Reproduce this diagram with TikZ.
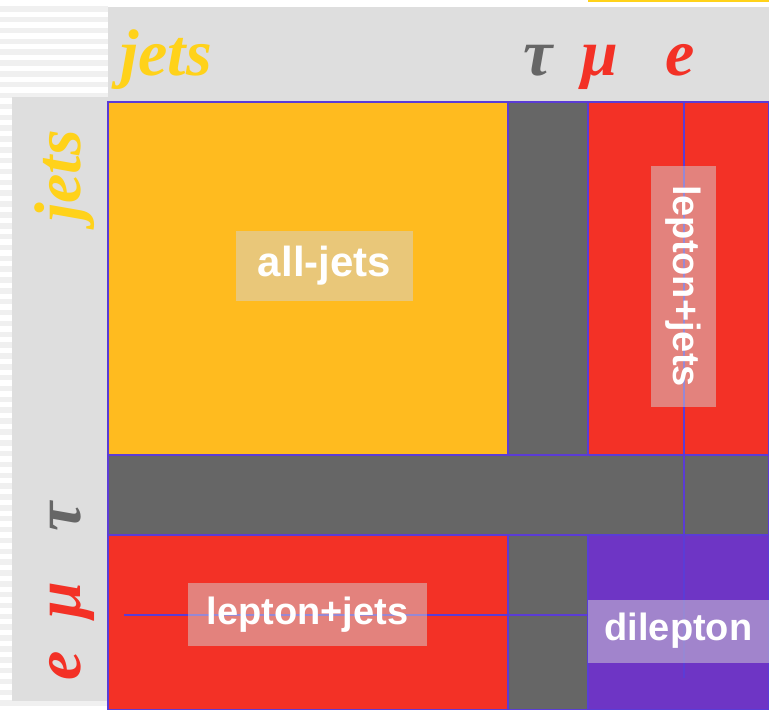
\documentclass[tikz,border=0pt]{standalone}
\usepackage{fontspec}
\setmainfont{Liberation Serif}
\newfontfamily\labfont{Liberation Sans}
\definecolor{cyellow}{HTML}{FFBB1F}
\definecolor{cgray}{HTML}{666666}
\definecolor{cred}{HTML}{F33126}
\definecolor{cpurple}{HTML}{6E35C5}
\definecolor{cborder}{HTML}{5B3CD6}
\definecolor{hyellow}{HTML}{FFD21A}
\definecolor{stripegray}{HTML}{F0F0F0}
\definecolor{stripbg}{HTML}{DEDEDE}
\definecolor{boxgray}{HTML}{D4D4D4}
\tikzset{
  cell/.style={draw=cborder, line width=1.3pt},
  gridline/.style={draw=cborder, line width=1.3pt},
  labelbox/.style={fill=boxgray, fill opacity=0.5, text opacity=1, text=white,
     inner sep=0pt, font=\labfont\bfseries\fontsize{38}{40}\selectfont},
  header/.style={anchor=base, inner sep=0pt, font=\bfseries\itshape\fontsize{66}{70}\selectfont}
}
\begin{document}
\begin{tikzpicture}[x=1pt,y=-1pt]
\useasboundingbox (0,0) rectangle (769,710);
% background stripes on the left
\foreach \i in {0,...,65} {
  \fill[stripegray] (0,{6+\i*10.85}) rectangle (108,{11.5+\i*10.85});
}
% header strips
\fill[stripbg] (108,7) rectangle (769,102);
\fill[hyellow] (588,0) rectangle (769,2);
\fill[stripbg] (12,97) rectangle (108,701);
% cells
\filldraw[cell, fill=cyellow] (108,102) rectangle (508,455);
\filldraw[cell, fill=cgray] (508,102) rectangle (588,455);
\filldraw[cell, fill=cred] (588,102) rectangle (769,455);
\filldraw[cell, fill=cgray] (108,455) rectangle (769,535);
\filldraw[cell, fill=cred] (108,535) rectangle (508,710);
\filldraw[cell, fill=cgray] (508,535) rectangle (588,710);
\filldraw[cell, fill=cpurple] (588,535) rectangle (769,710);
% inner lines
\coordinate (vtop) at (684,102);
\coordinate (vbot) at (684,678);
\coordinate (hl) at (124,615);
\coordinate (hr) at (588,615);
\draw[gridline] (vtop) -- (vbot);
\draw[gridline] (hl) -- (hr);
% labels
\node[labelbox, minimum width=177pt, minimum height=70pt,
      font=\labfont\bfseries\fontsize{42}{44}\selectfont] (alljets) at (324.5,266) {all-jets};
\node[labelbox, minimum width=241pt, minimum height=65pt, rotate=-90] (ljv) at (683.5,286) {lepton+jets};
\node[labelbox, minimum width=239pt, minimum height=63pt] (ljh) at (307.5,614.5) {lepton+jets};
\node[labelbox, minimum width=181pt, minimum height=63pt] (dil) at (678.5,631) {dilepton};
% top header
\node[header, text=hyellow] (tjets) at (166,75) {jets};
\node[header, text=cgray] (ttau) at (538,75) {τ};
\node[header, text=cred] (tmu) at (600,75) {μ};
\node[header, text=cred] (te) at (680,75) {e};
% left header
\node[header, text=hyellow, rotate=90] (ljets) at (80,176) {jets};
\node[header, text=cgray, rotate=90] (ltau) at (80,517) {τ};
\node[header, text=cred, rotate=90] (lmu) at (80,600) {μ};
\node[header, text=cred, rotate=90] (le) at (80,666) {e};
\end{tikzpicture}
\end{document}
